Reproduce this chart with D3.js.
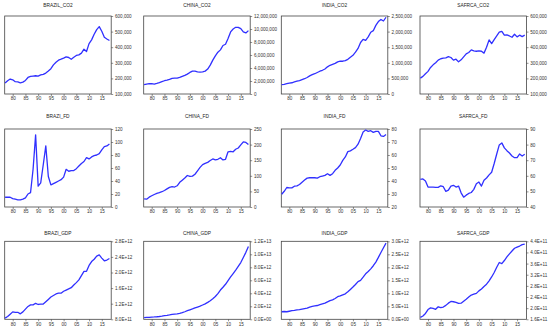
<!DOCTYPE html>
<html lang="en">
<head>
<meta charset="UTF-8">
<title>CO2, FD and GDP panels</title>
<script src="https://d3js.org/d3.v7.min.js"></script>
<style>
    body { margin: 0; background: #fff; }
    svg { display: block; font-family: "Liberation Sans", Arial, sans-serif; }
    .title { font-size: 4.8px; fill: #222; text-anchor: middle; }
    .tick text { font-size: 4.6px; fill: #333; }
    .frame { fill: none; stroke: #444; stroke-width: 0.8; }
    .series { fill: none; stroke: #3030ff; stroke-width: 1.3; stroke-linejoin: round; }
</style>
</head>
<body>
<svg id="chart" width="550" height="333"></svg>
<script>
const years = d3.range(1977, 2019);
const xTicks = [1980, 1985, 1990, 1995, 2000, 2005, 2010, 2015];

// CO2 (kt)
const brazilCo2 = [170000, 185000, 196000, 191000, 179000, 178000, 172000, 176000, 187000, 206000,
    213000, 215000, 217000, 215000, 223000, 226000, 234000, 247000, 262000, 287000,
    304000, 317000, 323000, 330000, 338000, 334000, 323000, 336000, 347000, 351000,
    362000, 387000, 372000, 423000, 447000, 483000, 513000, 532000, 502000, 464000,
    453000, 443000];
const chinaCo2 = [1430000, 1530000, 1580000, 1580000, 1530000, 1630000, 1740000, 1890000, 2040000, 2140000,
    2250000, 2400000, 2450000, 2450000, 2550000, 2710000, 2860000, 3060000, 3320000, 3520000,
    3520000, 3420000, 3370000, 3420000, 3520000, 3830000, 4440000, 5210000, 5870000, 6430000,
    6790000, 7460000, 7660000, 8530000, 9550000, 10000000, 10260000, 10260000, 10060000, 9550000,
    9400000, 9750000];
const indiaCo2 = [300000, 310000, 330000, 350000, 360000, 385000, 410000, 430000, 460000, 490000,
    530000, 580000, 620000, 650000, 690000, 730000, 760000, 800000, 870000, 920000,
    950000, 980000, 1030000, 1050000, 1050000, 1070000, 1110000, 1180000, 1240000, 1340000,
    1460000, 1650000, 1750000, 1720000, 1830000, 1980000, 2030000, 2200000, 2320000, 2390000,
    2340000, 2460000];
const safrcaCo2 = [202000, 213000, 230000, 245000, 270000, 287000, 300000, 317000, 326000, 330000,
    332000, 340000, 334000, 317000, 323000, 306000, 319000, 338000, 357000, 366000,
    383000, 377000, 374000, 377000, 374000, 362000, 400000, 447000, 423000, 449000,
    472000, 496000, 502000, 477000, 479000, 472000, 464000, 483000, 466000, 477000,
    468000, 477000];

// Financial development
const brazilFd = [15, 15, 15, 13, 12, 11, 11, 12, 14, 20,
    22, 58, 111, 32, 37, 65, 94, 47, 34, 36,
    38, 40, 42, 46, 58, 55, 56, 56, 59, 63,
    67, 70, 76, 74, 77, 79, 80, 82, 88, 93,
    94, 97];
const chinaFd = [26, 25, 31.5, 36, 40, 43.5, 46, 49, 53, 58,
    63, 65, 64, 68, 79, 86, 93, 101, 98, 99,
    105, 116, 127, 136, 140, 143, 149, 154, 151, 153,
    158, 151, 153, 177, 178, 177, 185, 189, 199, 209,
    207, 200];
const indiaFd = [29.8, 32.1, 35, 34.7, 34.7, 36, 36.3, 37.3, 39.1, 40.7,
    42.2, 42.5, 42.5, 42.5, 42.2, 43.3, 43.8, 44.3, 45.6, 44.3,
    45.6, 48.2, 50, 52.3, 55.9, 58.5, 62.6, 63.2, 64.4, 65.7,
    68.3, 72.7, 77.7, 79.2, 78.2, 78.7, 77.4, 78.2, 78.2, 74.8,
    74.3, 75.8];
const safrcaFd = [57.7, 58, 56.7, 52.8, 52.8, 52.8, 52.6, 52.6, 53.6, 53,
    50, 50.8, 53.4, 53.9, 52.8, 53.4, 49.1, 46.3, 47.6, 48.7,
    49.3, 51.3, 54.9, 56, 53.4, 57.1, 58.6, 60.6, 62.3, 67.9,
    74, 79.8, 81.1, 77.9, 76.1, 74.6, 72.7, 71.6, 71.6, 74,
    72.7, 73.8];

// GDP (constant US$)
const brazilGdp = [0.83e12, 0.87e12, 0.93e12, 0.99e12, 0.98e12, 0.98e12, 0.94e12, 0.99e12, 1.06e12, 1.13e12,
    1.17e12, 1.17e12, 1.21e12, 1.18e12, 1.19e12, 1.19e12, 1.25e12, 1.31e12, 1.37e12, 1.41e12,
    1.45e12, 1.47e12, 1.47e12, 1.52e12, 1.55e12, 1.58e12, 1.61e12, 1.68e12, 1.74e12, 1.81e12,
    1.92e12, 2.03e12, 2.03e12, 2.18e12, 2.28e12, 2.34e12, 2.42e12, 2.45e12, 2.37e12, 2.30e12,
    2.32e12, 2.36e12];
const chinaGdp = [0.26e12, 0.29e12, 0.31e12, 0.34e12, 0.36e12, 0.39e12, 0.43e12, 0.49e12, 0.56e12, 0.61e12,
    0.68e12, 0.76e12, 0.79e12, 0.82e12, 0.90e12, 1.02e12, 1.16e12, 1.32e12, 1.46e12, 1.60e12,
    1.75e12, 1.89e12, 2.03e12, 2.20e12, 2.38e12, 2.60e12, 2.86e12, 3.15e12, 3.50e12, 3.95e12,
    4.50e12, 4.93e12, 5.39e12, 5.96e12, 6.52e12, 7.04e12, 7.58e12, 8.15e12, 8.73e12, 9.50e12,
    10.30e12, 11.20e12];
const indiaGdp = [0.29e12, 0.30e12, 0.29e12, 0.31e12, 0.33e12, 0.34e12, 0.36e12, 0.37e12, 0.39e12, 0.41e12,
    0.43e12, 0.47e12, 0.50e12, 0.52e12, 0.53e12, 0.56e12, 0.59e12, 0.62e12, 0.67e12, 0.72e12,
    0.75e12, 0.80e12, 0.87e12, 0.90e12, 0.94e12, 0.98e12, 1.06e12, 1.15e12, 1.24e12, 1.34e12,
    1.45e12, 1.50e12, 1.62e12, 1.75e12, 1.84e12, 1.94e12, 2.06e12, 2.20e12, 2.38e12, 2.57e12,
    2.75e12, 2.93e12];
const safrcaGdp = [1.67e11, 1.72e11, 1.81e11, 1.95e11, 2.01e11, 1.99e11, 1.96e11, 2.05e11, 2.02e11, 2.04e11,
    2.10e11, 2.18e11, 2.24e11, 2.23e11, 2.21e11, 2.17e11, 2.18e11, 2.25e11, 2.32e11, 2.40e11,
    2.47e11, 2.50e11, 2.53e11, 2.62e11, 2.69e11, 2.78e11, 2.86e11, 2.98e11, 3.12e11, 3.28e11,
    3.47e11, 3.64e11, 3.60e11, 3.71e11, 3.84e11, 3.95e11, 4.05e11, 4.15e11, 4.19e11, 4.23e11,
    4.28e11, 4.30e11];

const titles = ["BRAZIL_CO2", "CHINA_CO2", "INDIA_CO2", "SAFRCA_CO2",
    "BRAZI_FD", "CHINA_FD", "INDIA_FD", "SAFRCA_FD",
    "BRAZI_GDP", "CHINA_GDP", "INDIA_GDP", "SAFRCA_GDP"];
const seriesList = [brazilCo2, chinaCo2, indiaCo2, safrcaCo2,
    brazilFd, chinaFd, indiaFd, safrcaFd,
    brazilGdp, chinaGdp, indiaGdp, safrcaGdp];
const yTicks = [
    [100000, 200000, 300000, 400000, 500000, 600000],
    [0, 2000000, 4000000, 6000000, 8000000, 10000000, 12000000],
    [0, 500000, 1000000, 1500000, 2000000, 2500000],
    [100000, 200000, 300000, 400000, 500000, 600000],
    [0, 20, 40, 60, 80, 100, 120],
    [0, 50, 100, 150, 200, 250],
    [20, 30, 40, 50, 60, 70, 80],
    [40, 50, 60, 70, 80, 90],
    [0.8e12, 1.2e12, 1.6e12, 2.0e12, 2.4e12, 2.8e12],
    [0, 2e12, 4e12, 6e12, 8e12, 10e12, 12e12],
    [0, 0.5e12, 1.0e12, 1.5e12, 2.0e12, 2.5e12, 3.0e12],
    [1.6e11, 2.0e11, 2.4e11, 2.8e11, 3.2e11, 3.6e11, 4.0e11, 4.4e11]
];

const svg = d3.select("#chart");
const colLeft = [4.7, 143.7, 281.3, 420];
const rowTop = [16, 129, 241.3];
const titleY = [7.4, 118.4, 234.7];
const boxW = 106.5, boxH = 78;

const x = d3.scaleLinear().domain([1976.85, 2018.7]).range([0, boxW]);

function sciFormat(v) {
    const [m, e] = v.toExponential(1).toUpperCase().split("E");
    const sign = e[0] === "-" ? "-" : "+";
    const digits = e.replace(/[+-]/, "").padStart(2, "0");
    return m + "E" + sign + digits;
}

seriesList.forEach((values, i) => {
    const row = Math.floor(i / 4), col = i % 4;
    const ticks = yTicks[i];
    const g = svg.append("g")
        .attr("transform", `translate(${colLeft[col]},${rowTop[row]})`);

    const y = d3.scaleLinear()
        .domain([ticks[0], ticks[ticks.length - 1]])
        .range([boxH, 0]);

    const fmt = row === 2 ? sciFormat : d3.format(",");

    g.append("g")
        .attr("transform", `translate(${boxW},0)`)
        .call(d3.axisRight(y).tickValues(ticks).tickFormat(fmt).tickSize(2).tickPadding(1.8))
        .call(a => a.select(".domain").remove())
        .call(a => a.selectAll("line").attr("stroke", "#444").attr("stroke-width", 0.6));

    g.append("g")
        .attr("transform", `translate(0,${boxH})`)
        .call(d3.axisBottom(x).tickValues(xTicks)
            .tickFormat(d => String(d % 100).padStart(2, "0")).tickSize(2).tickPadding(1.2))
        .call(a => a.select(".domain").remove())
        .call(a => a.selectAll("line").attr("stroke", "#444").attr("stroke-width", 0.6));

    g.append("rect")
        .attr("class", "frame")
        .attr("width", boxW)
        .attr("height", boxH);

    g.append("path")
        .datum(values)
        .attr("class", "series")
        .attr("d", d3.line().x((d, j) => x(years[j])).y(d => y(d)));

    svg.append("text")
        .attr("class", "title")
        .attr("x", colLeft[col] + boxW / 2)
        .attr("y", titleY[row])
        .text(titles[i]);
});
</script>
</body>
</html>
